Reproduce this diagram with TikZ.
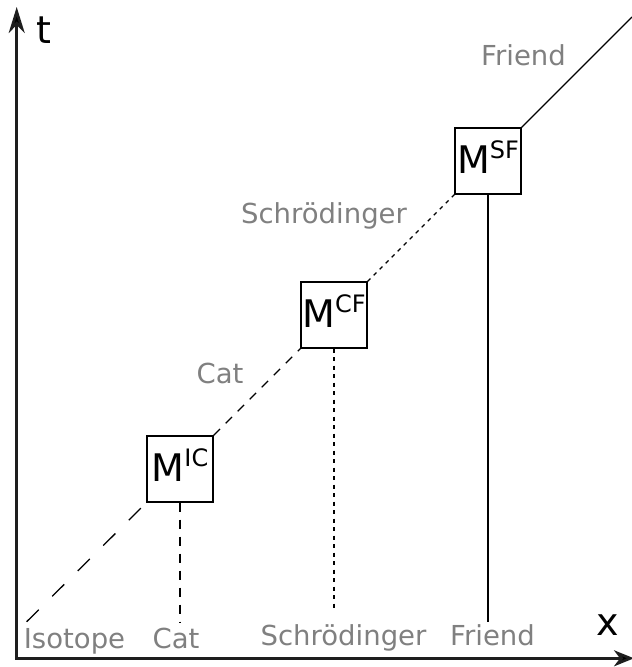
\documentclass[tikz,border=0pt]{standalone}
\usepackage{fontspec}
\setmainfont{DejaVu Sans}
\usetikzlibrary{arrows.meta}

\definecolor{labelgray}{RGB}{128,128,128}
\definecolor{axisgray}{RGB}{30,30,30}

\tikzset{
  axis/.style={line width=2.6pt, draw=axisgray, line join=miter,
    arrows={Stealth[length=26pt,width=16pt,inset=8pt,fill=black]-Stealth[length=20pt,width=16pt,inset=6pt,fill=black]}},
  mbox/.style={draw, line width=1.3pt, minimum size=66pt, inner sep=0pt,
    text depth=8pt, font=\fontsize{38}{38}\selectfont},
  link/.style={line width=1.3pt},
  longdash/.style={link, dash pattern=on 17pt off 19pt},
  middash/.style={link, dash pattern=on 9pt off 8pt},
  shortdash/.style={link, dash pattern=on 4pt off 4.5pt},
  tag/.style={text=labelgray, anchor=base, inner sep=0pt,
    font=\fontsize{27.5}{27.5}\selectfont},
  axlabel/.style={anchor=base, inner sep=0pt, font=\fontsize{38}{38}\selectfont}
}
\newcommand{\supfig}[1]{\raisebox{15pt}{\fontsize{24}{24}\selectfont #1}}

\begin{document}
\begin{tikzpicture}[x=1pt, y=-1pt]
  \useasboundingbox (0,0) rectangle (632,667);

  % axes
  \coordinate (O) at (16.7,658.3);
  \coordinate (T) at (16.7,7);
  \coordinate (X) at (634,658.3);
  \draw[axis] (T) -- (O) -- (X);
  \node[axlabel] (tlab) at (44,43) {t};
  \node[axlabel] (xlab) at (608,635) {x};

  % measurement boxes
  \node[mbox] (ic) at (180,469) {M\supfig{IC}};
  \node[mbox] (cf) at (334,315) {M\supfig{CF}};
  \node[mbox] (sf) at (488,161) {M\supfig{SF}};

  % world line
  \coordinate (start) at (26.7,621.7);
  \coordinate (finish) at (632,17);
  \draw[longdash] (start) -- (ic.south west);
  \draw[middash] (ic.north east) -- (cf.south west);
  \draw[shortdash] (cf.north east) -- (sf.south west);
  \draw[link] (sf.north east) -- (finish);

  % records dropped to the x axis
  \coordinate (catfoot) at (180,622);
  \coordinate (schfoot) at (334,611);
  \coordinate (frfoot) at (488,622);
  \draw[middash] (ic.south) -- (catfoot);
  \draw[shortdash] (cf.south) -- (schfoot);
  \draw[link] (sf.south) -- (frfoot);

  % labels along the x axis
  \node[tag] (isob) at (74.5,648) {Isotope};
  \node[tag] (catb) at (176,648) {Cat};
  \node[tag] (schb) at (343.5,645) {Schrödinger};
  \node[tag] (frb) at (492.5,645) {Friend};

  % labels along the world line
  \node[tag] (catm) at (220,383) {Cat};
  \node[tag] (schm) at (324,223) {Schrödinger};
  \node[tag] (frm) at (523.5,65) {Friend};
\end{tikzpicture}
\end{document}
